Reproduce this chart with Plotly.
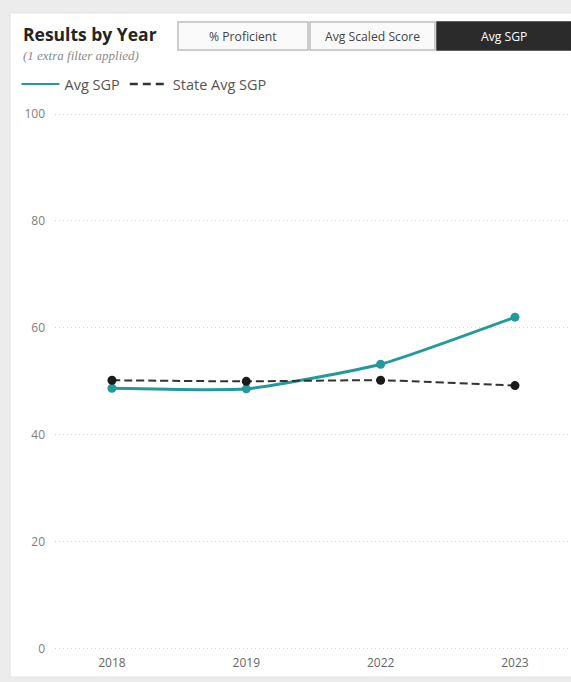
import plotly.graph_objects as go

years = ["2018", "2019", "2022", "2023"]
avg_sgp = [48.7, 48.6, 53.2, 62.0]
state_avg_sgp = [50.2, 50.0, 50.2, 49.2]
y_ticks = [0, 20, 40, 60, 80, 100]
buttons = ["% Proficient", "Avg Scaled Score", "Avg SGP"]
series_names = ["Avg SGP", "State Avg SGP"]

W, H = 571, 682
ML, MR, MT, MB = 55, 0, 106, 28
PW, PH = W - ML - MR, H - MT - MB


def px(x):
    return (x - ML) / PW


def py(y):
    return (H - MB - y) / PH


FONT = "Open Sans"
TEAL = "#22999a"
DARK = "#333333"

fig = go.Figure()
fig.add_trace(go.Scatter(
    x=years, y=avg_sgp, name=series_names[0], mode="lines+markers", showlegend=False,
    line=dict(color=TEAL, width=3, shape="spline", smoothing=0.5),
    marker=dict(color=TEAL, size=9), cliponaxis=False,
))
fig.add_trace(go.Scatter(
    x=years, y=state_avg_sgp, name=series_names[1], mode="lines+markers", showlegend=False,
    line=dict(color=DARK, width=2, dash="8px,4px", shape="spline", smoothing=0.5),
    marker=dict(color="#1a1a1a", size=9), cliponaxis=False,
))
# legend entries (lines only, like the reference legend)
fig.add_trace(go.Scatter(x=[None], y=[None], name=series_names[0], mode="lines",
                         line=dict(color=TEAL, width=2)))
fig.add_trace(go.Scatter(x=[None], y=[None], name=series_names[1], mode="lines",
                         line=dict(color=DARK, width=2.5, dash="8px,5px")))

shapes = [
    dict(type="rect", xref="paper", yref="paper", x0=px(0), x1=px(W), y0=py(H), y1=py(0),
         fillcolor="#ececec", line=dict(width=0), layer="below"),
    dict(type="rect", xref="paper", yref="paper", x0=px(10), x1=px(W + 5), y0=py(677), y1=py(13),
         fillcolor="white", line=dict(color="#e2e2e2", width=1), layer="below"),
]
btn_x = [(178, 308), (310, 435), (437, 571)]
annotations = [
    dict(text="<b>Results by Year</b>", x=px(21), y=py(34), xref="paper", yref="paper",
         xanchor="left", yanchor="middle", showarrow=False,
         font=dict(family=FONT, size=17.5, color="#252423")),
    dict(text="<i>(1 extra filter applied)</i>", x=px(21), y=py(56), xref="paper", yref="paper",
         xanchor="left", yanchor="middle", showarrow=False,
         font=dict(family="Liberation Serif", size=13, color="#8a8a8a")),
]
for i, (lab, (x0, x1)) in enumerate(zip(buttons, btn_x)):
    active = i == 2
    shapes.append(dict(type="rect", xref="paper", yref="paper", x0=px(x0), x1=px(x1),
                       y0=py(50), y1=py(22),
                       fillcolor="#2b2b2b" if active else "#fafafa",
                       line=dict(color="#2b2b2b" if active else "#bdbdbd", width=1.5)))
    annotations.append(dict(text=lab, x=px((x0 + x1) / 2), y=py(36), xref="paper", yref="paper",
                            xanchor="center", yanchor="middle", showarrow=False,
                            font=dict(family=FONT, size=12.2, color="white" if active else "#444444")))

fig.update_layout(
    width=W, height=H,
    margin=dict(l=ML, r=MR, t=MT, b=MB),
    paper_bgcolor="#ececec", plot_bgcolor="rgba(0,0,0,0)",
    font=dict(family=FONT, color="#666666"),
    shapes=shapes, annotations=annotations,
    showlegend=True,
    legend=dict(orientation="h", xref="container", yref="container", x=16.5 / W, y=(H - 84) / H,
                xanchor="left", yanchor="middle", bgcolor="rgba(0,0,0,0)",
                font=dict(family=FONT, size=14.5, color="#555555"),
                itemwidth=38, tracegroupgap=0),
    xaxis=dict(type="category", range=[-0.424, 3.417], showgrid=False, zeroline=False,
               showline=False, ticks="", tickfont=dict(size=12, color="#666666"),
               ticklabelstandoff=0),
    yaxis=dict(range=[-1, 101.5], tickvals=y_ticks, showgrid=True, gridcolor="#d2d2d2",
               griddash="1px,3px", gridwidth=1, zeroline=False, showline=False, ticks="",
               tickfont=dict(size=12, color="#808080"), ticklabelstandoff=9),
)

fig.write_html("out.html")
